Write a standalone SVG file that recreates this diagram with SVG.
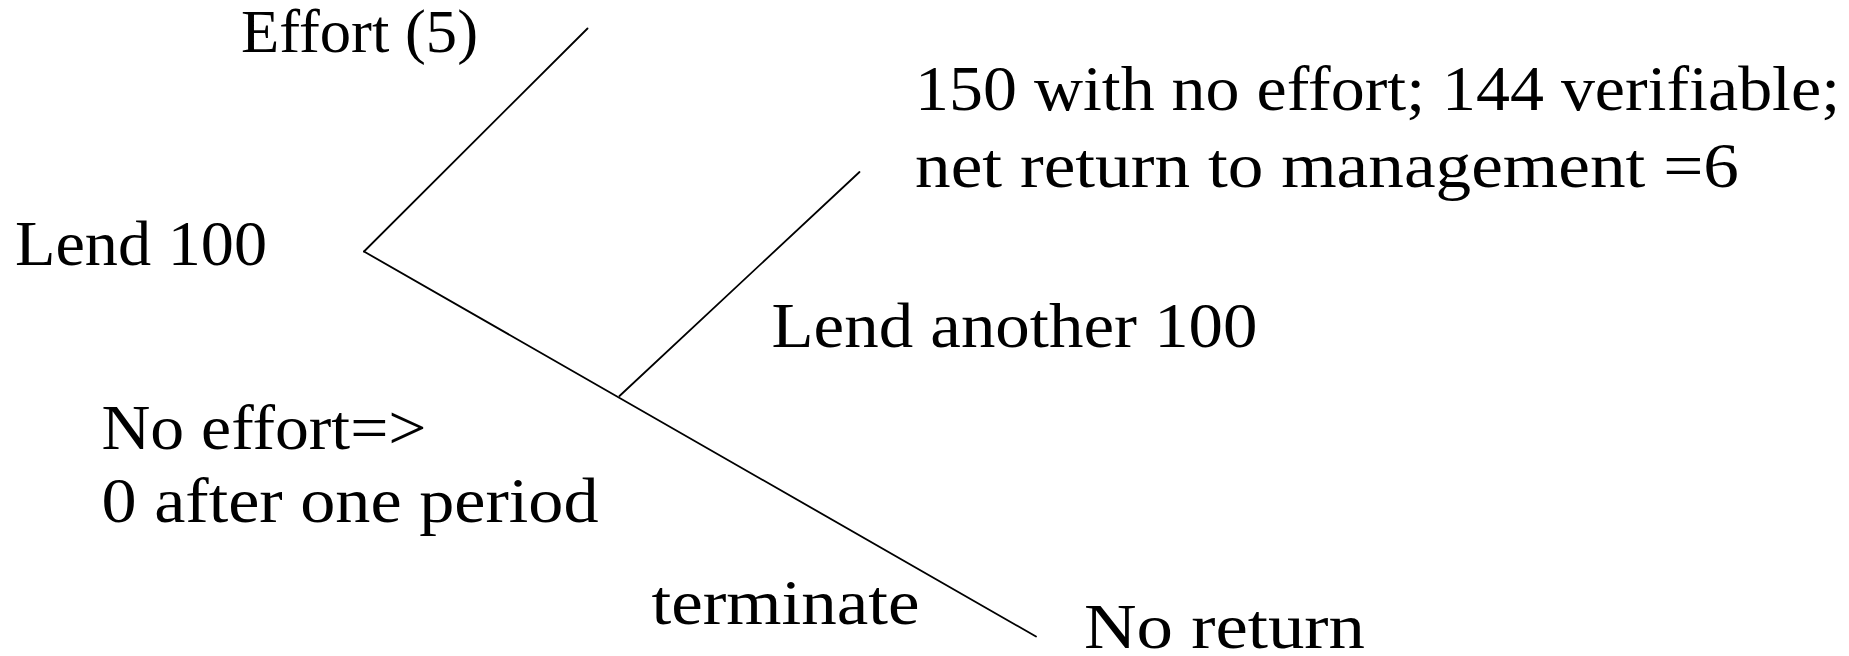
<svg xmlns="http://www.w3.org/2000/svg" width="1849" height="656" viewBox="0 0 1849 656">
  <style>
    .lbl { font-family: 'Liberation Serif', 'DejaVu Serif', serif; font-size: 64px; fill: #000; }
    .times { font-size: 62px; }
    .edge { stroke: #000; stroke-width: 1.8; fill: none; stroke-linecap: round; }
  </style>
  <rect width="1849" height="656" fill="#fff"/>

  <!-- tree branches -->
  <g id="connectors">
    <line class="edge" x1="364" y1="251.5" x2="587.5" y2="28.5"/>
    <line class="edge" x1="364" y1="251.5" x2="1036" y2="636.5"/>
    <line class="edge" x1="619.5" y1="396" x2="859.5" y2="172"/>
  </g>

  <g id="root">
    <text class="lbl" x="15" y="265" textLength="252" lengthAdjust="spacingAndGlyphs">Lend 100</text>
  </g>
  <g id="effort">
    <text class="lbl times" x="241" y="52" textLength="237" lengthAdjust="spacingAndGlyphs">Effort (5)</text>
  </g>
  <g id="no-effort">
    <text class="lbl" x="101.5" y="448.5" textLength="325" lengthAdjust="spacingAndGlyphs">No effort=&gt;</text>
    <text class="lbl" x="101.5" y="521.5" textLength="497" lengthAdjust="spacingAndGlyphs">0 after one period</text>
  </g>
  <g id="lend-another">
    <text class="lbl" x="771.5" y="346.5" textLength="486" lengthAdjust="spacingAndGlyphs">Lend another 100</text>
  </g>
  <g id="outcome-verifiable">
    <text class="lbl" x="915" y="110" textLength="925" lengthAdjust="spacingAndGlyphs">150 with no effort; 144 verifiable;</text>
    <text class="lbl" x="915" y="186.5" textLength="824" lengthAdjust="spacingAndGlyphs">net return to management =6</text>
  </g>
  <g id="terminate">
    <text class="lbl" x="651.5" y="624" textLength="268" lengthAdjust="spacingAndGlyphs">terminate</text>
  </g>
  <g id="no-return">
    <text class="lbl" x="1084" y="648" textLength="281" lengthAdjust="spacingAndGlyphs">No return</text>
  </g>
</svg>
